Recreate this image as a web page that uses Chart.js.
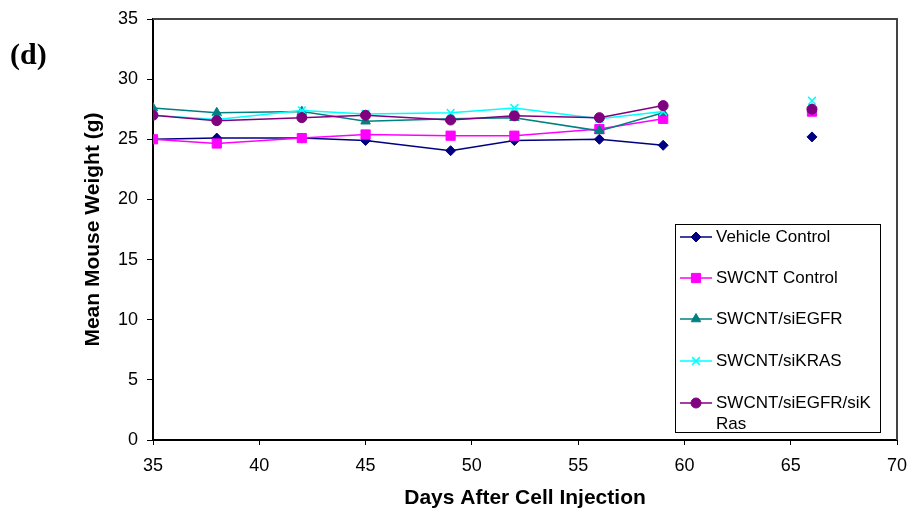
<!DOCTYPE html>
<html>
<head>
<meta charset="utf-8">
<title>Mean Mouse Weight</title>
<script src="https://cdn.jsdelivr.net/npm/chart.js@4.4.1/dist/chart.umd.min.js"></script>
<style>
  html, body { margin: 0; padding: 0; background: #fff; }
  #wrap { position: relative; width: 912px; height: 513px; }
  #panel-label {
    position: absolute; left: 10px; top: 36px;
    font: bold 30px "Liberation Serif", "Times New Roman", serif;
    line-height: 36px; color: #000;
  }
</style>
</head>
<body>
<div id="wrap">
  <canvas id="weightChart" width="912" height="513"></canvas>
  <div id="panel-label">(d)</div>
</div>
<script>
// Days after cell injection (no measurement between day 59 and 66)
const days = [35, 38, 42, 45, 49, 52, 56, 59, 66];

// Mean mouse weight (g) per group
const vehicleControl = [25.0, 25.1, 25.1, 24.9, 24.05, 24.9, 25.0, 24.5, 25.2];
const swcntControl   = [25.0, 24.65, 25.1, 25.4, 25.3, 25.3, 25.85, 26.7, 27.3];
const swcntSiEGFR    = [27.6, 27.2, 27.3, 26.5, 26.7, 26.8, 25.7, 27.2, 27.5];
const swcntSiKRAS    = [27.0, 26.65, 27.4, 27.1, 27.2, 27.6, 26.7, 27.3, 28.2];
const swcntSiEGFRKRas = [27.0, 26.55, 26.8, 27.0, 26.6, 26.95, 26.8, 27.8, 27.5];

const seriesNames = ['Vehicle Control', 'SWCNT Control', 'SWCNT/siEGFR', 'SWCNT/siKRAS', 'SWCNT/siEGFR/siKRas'];
const xTicks = [35, 40, 45, 50, 55, 60, 65, 70];
const yTicks = [0, 5, 10, 15, 20, 25, 30, 35];

const seriesValues = [vehicleControl, swcntControl, swcntSiEGFR, swcntSiKRAS, swcntSiEGFRKRas];
const seriesStyle = [
  { color: '#000080', pointStyle: 'rectRot', radius: 5 },
  { color: '#FF00FF', pointStyle: 'rect', radius: 6.5 },
  { color: '#008080', pointStyle: 'triangle', radius: 5.5 },
  { color: '#00FFFF', pointStyle: 'crossRot', radius: 5.5 },
  { color: '#800080', pointStyle: 'circle', radius: 5 }
];

const FONT = '"Liberation Sans", Arial, sans-serif';

const datasets = seriesValues.map((vals, i) => ({
  label: seriesNames[i],
  data: days.map((d, j) => ({ x: d, y: vals[j] })),
  borderColor: seriesStyle[i].color,
  backgroundColor: seriesStyle[i].color,
  pointBackgroundColor: seriesStyle[i].color,
  pointBorderColor: seriesStyle[i].color,
  pointStyle: seriesStyle[i].pointStyle,
  pointRadius: seriesStyle[i].radius,
  pointBorderWidth: seriesStyle[i].pointStyle === 'crossRot' ? 1.5 : 1,
  borderWidth: 1.5,
  showLine: true,
  tension: 0,
  order: seriesValues.length - i,
  // the weeks-long gap before day 66 is not joined
  segment: {
    borderColor: ctx => (ctx.p1.parsed.x - ctx.p0.parsed.x > 5 ? 'rgba(0,0,0,0)' : undefined)
  }
}));

// plot frame (top and right edges)
const framePlugin = {
  id: 'frame',
  beforeDatasetsDraw(chart) {
    const { ctx, chartArea: a } = chart;
    ctx.save();
    ctx.strokeStyle = '#444';
    ctx.lineWidth = 2;
    ctx.beginPath();
    ctx.moveTo(a.left, a.top);
    ctx.lineTo(a.right, a.top);
    ctx.lineTo(a.right, a.bottom);
    ctx.stroke();
    ctx.restore();
  }
};

// boxed legend sitting inside the plot area
const boxLegend = {
  id: 'boxLegend',
  afterDraw(chart) {
    const ctx = chart.ctx;
    const left = 675, top = 224, w = 205, h = 208;
    const rowY = [237, 278, 319, 361, 403];
    const textX = 716, maxW = 162, lineH = 21;
    ctx.save();
    ctx.fillStyle = '#fff';
    ctx.fillRect(left, top, w, h);
    ctx.strokeStyle = '#000';
    ctx.lineWidth = 1;
    ctx.strokeRect(left + 0.5, top + 0.5, w, h);
    ctx.font = '17px ' + FONT;
    ctx.textBaseline = 'middle';
    ctx.textAlign = 'left';
    chart.data.datasets.forEach((ds, i) => {
      const y = rowY[i];
      ctx.strokeStyle = ds.borderColor;
      ctx.lineWidth = 1.5;
      ctx.beginPath();
      ctx.moveTo(680, y);
      ctx.lineTo(712, y);
      ctx.stroke();
      ctx.fillStyle = ds.backgroundColor;
      ctx.strokeStyle = ds.borderColor;
      ctx.lineWidth = ds.pointBorderWidth;
      Chart.helpers.drawPoint(ctx, {
        pointStyle: ds.pointStyle, radius: ds.pointRadius, rotation: 0, borderWidth: ds.pointBorderWidth
      }, 696, y);
      // wrap long labels at the box edge
      const lines = [];
      let cur = '';
      for (const ch of ds.label) {
        if (ctx.measureText(cur + ch).width > maxW && cur) { lines.push(cur); cur = ch; }
        else cur += ch;
      }
      lines.push(cur);
      ctx.fillStyle = '#000';
      lines.forEach((t, k) => ctx.fillText(t, textX, y + k * lineH));
    });
    ctx.restore();
  }
};

new Chart(document.getElementById('weightChart'), {
  type: 'scatter',
  data: { datasets },
  options: {
    responsive: false,
    animation: false,
    events: [],
    layout: { padding: { top: 19, right: 15, left: 0, bottom: 0 } },
    plugins: { legend: { display: false }, tooltip: { enabled: false } },
    scales: {
      x: {
        type: 'linear',
        min: 35, max: 70,
        afterBuildTicks: s => { s.ticks = xTicks.map(v => ({ value: v })); },
        afterFit: s => { s.height = 73; s.paddingLeft = 0; s.paddingRight = 0; },
        border: { color: '#000', width: 2 },
        grid: { drawOnChartArea: false, drawTicks: true, tickLength: 5, color: '#000' },
        ticks: { color: '#000', font: { family: FONT, size: 18 }, padding: 10, maxRotation: 0 },
        title: {
          display: true, text: 'Days After Cell Injection', color: '#000',
          font: { family: FONT, size: 21, weight: 'bold' }, padding: { top: 0, bottom: 2 }
        }
      },
      y: {
        type: 'linear',
        min: 0, max: 35,
        afterBuildTicks: s => { s.ticks = yTicks.map(v => ({ value: v })); },
        afterFit: s => { s.width = 153; s.paddingTop = 0; s.paddingBottom = 0; },
        border: { color: '#000', width: 2 },
        grid: { drawOnChartArea: false, drawTicks: true, tickLength: 6, color: '#000' },
        ticks: { color: '#000', font: { family: FONT, size: 18 }, padding: 9 },
        title: {
          display: true, text: 'Mean Mouse Weight (g)', color: '#000',
          font: { family: FONT, size: 21, weight: 'bold' }, padding: { top: 81, bottom: 0 }
        }
      }
    }
  },
  plugins: [framePlugin, boxLegend]
});
</script>
</body>
</html>
